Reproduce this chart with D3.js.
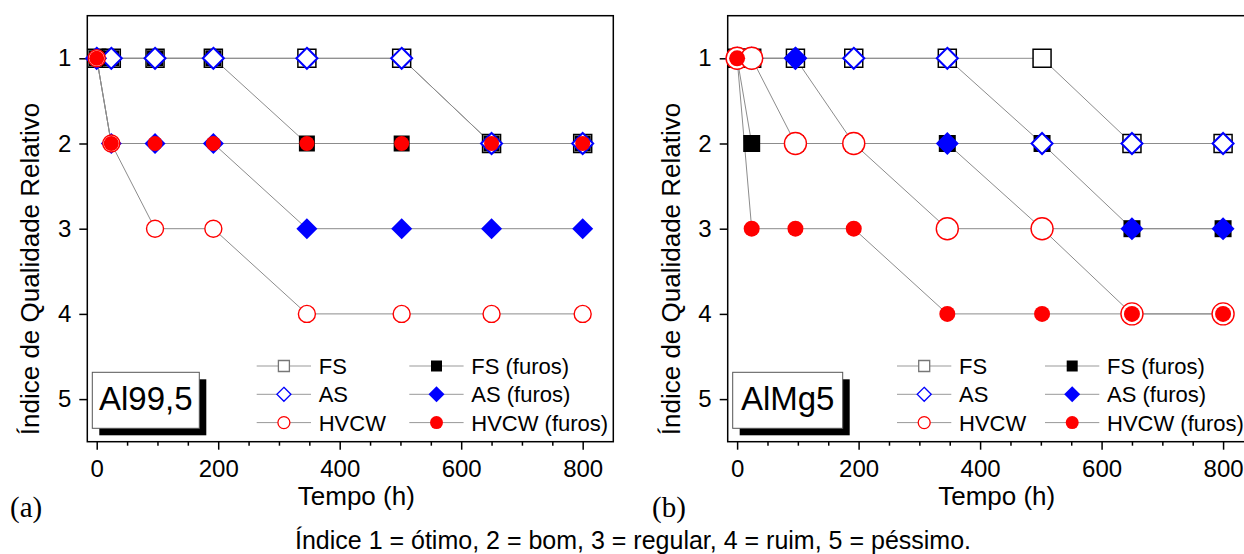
<!DOCTYPE html>
<html>
<head>
<meta charset="utf-8">
<title>Índice de Qualidade Relativo</title>
<style>
  body { margin: 0; background: #fff; }
  svg text { font-family: "Liberation Sans", Arial, sans-serif; fill: #000; }
  .tick text { font-size: 24px; }
  .axis-title { font-size: 26px; }
  .legend text { font-size: 22px; }
  .box-label { font-size: 33px; }
  .caption { font-size: 25px; }
</style>
</head>
<body>
<svg id="chart"></svg>
<script src="https://d3js.org/d3.v7.min.js"></script>
<script>
  // time (h) of each reading
  const times = [0, 24, 96, 192, 346, 502, 650, 800];
  const xTicks = [0, 200, 400, 600, 800];
  const xMinorTicks = [50, 100, 150, 250, 300, 350, 450, 500, 550, 650, 700, 750];
  const yTicks = [1, 2, 3, 4, 5];
  const seriesNames = ["FS", "FS (furos)", "AS", "AS (furos)", "HVCW", "HVCW (furos)"];

  // (a) Al99,5
  const alFS = [1, 1, 1, 1, 1, 1, 2, 2];
  const alFSFuros = [1, 1, 1, 1, 2, 2, 2, 2];
  const alAS = [1, 1, 1, 1, 1, 1, 2, 2];
  const alASFuros = [1, 2, 2, 2, 3, 3, 3, 3];
  const alHVCW = [1, 2, 3, 3, 4, 4, 4, 4];
  const alHVCWFuros = [1, 2, 2, 2, 2, 2, 2, 2];

  // (b) AlMg5
  const mgFS = [1, 1, 1, 1, 1, 1, 2, 2];
  const mgFSFuros = [1, 2, 2, 2, 2, 2, 3, 3];
  const mgAS = [1, 1, 1, 1, 1, 2, 2, 2];
  const mgASFuros = [1, 1, 1, 2, 2, 3, 3, 3];
  const mgHVCW = [1, 1, 2, 2, 3, 3, 4, 4];
  const mgHVCWFuros = [1, 3, 3, 3, 4, 4, 4, 4];

  const width = 1244, height = 554;
  const plotTop = 15.7, plotBottom = 441.7, frameW = 526;

  // marker look per series (same order as seriesNames)
  const styles = [
    { shape: "square", fill: "#fff", stroke: "#000", sw: 1.5, legStroke: "#777" },
    { shape: "square", fill: "#000", stroke: "none", sw: 0 },
    { shape: "diamond", fill: "#fff", stroke: "#0000ff", sw: 2 },
    { shape: "diamond", fill: "#0000ff", stroke: "none", sw: 0 },
    { shape: "circle", fill: "#fff", stroke: "#ff0000", sw: 1.4 },
    { shape: "circle", fill: "#ff0000", stroke: "none", sw: 0 }
  ];

  const panels = [
    {
      x0: 87.3, label: "Al99,5", letter: "(a)", letterX: 10,
      values: [alFS, alFSFuros, alAS, alASFuros, alHVCW, alHVCWFuros],
      sizes: [18, 16, 10.5, 10.5, 8.5, 7.5],
      boxW: 107, leg1: 169.4, leg2: 322
    },
    {
      x0: 727.7, label: "AlMg5", letter: "(b)", letterX: 652,
      values: [mgFS, mgFSFuros, mgAS, mgASFuros, mgHVCW, mgHVCWFuros],
      sizes: [18, 17, 10.5, 11.5, 11, 8],
      boxW: 110, leg1: 169.3, leg2: 317.3
    }
  ];

  const svg = d3.select("#chart")
    .attr("width", width)
    .attr("height", height)
    .style("display", "block");

  svg.append("rect").attr("width", width).attr("height", height).attr("fill", "#fff");

  // shape / size -> path
  function markerPath(shape, s) {
    if (shape === "square") return d3.symbol().type(d3.symbolSquare).size(s * s)();
    if (shape === "diamond") {
      return `M0,${-s}L${s},0L0,${s}L${-s},0Z`;
    }
    return d3.symbol().type(d3.symbolCircle).size(Math.PI * s * s)();
  }

  const y = d3.scaleLinear().domain([0.5, 5.5]).range([plotTop, plotBottom]);

  panels.forEach(p => {
    const x = d3.scaleLinear().domain([-15.5, 850.4]).range([p.x0, p.x0 + frameW]);
    const g = svg.append("g");

    // frame
    g.append("rect")
      .attr("x", p.x0).attr("y", plotTop)
      .attr("width", frameW).attr("height", plotBottom - plotTop)
      .attr("fill", "none").attr("stroke", "#000").attr("stroke-width", 1.5);

    // axes
    const xAxis = g.append("g").attr("transform", `translate(0,${plotBottom})`)
      .call(d3.axisBottom(x).tickValues(xTicks).tickSize(8).tickPadding(10).tickSizeOuter(0));
    const xMinor = g.append("g").attr("transform", `translate(0,${plotBottom})`)
      .call(d3.axisBottom(x).tickValues(xMinorTicks).tickSize(4).tickFormat("").tickSizeOuter(0));
    const yAxis = g.append("g").attr("transform", `translate(${p.x0},0)`)
      .call(d3.axisLeft(y).tickValues(yTicks).tickFormat(d3.format("d"))
        .tickSize(8).tickPadding(8).tickSizeOuter(0));
    [xAxis, xMinor, yAxis].forEach(a => {
      a.attr("font-size", null).attr("font-family", null);
      a.select(".domain").remove();
      a.selectAll(".tick line").attr("stroke", "#000").attr("stroke-width", 1.5);
    });

    // axis titles
    g.append("text").attr("class", "axis-title")
      .attr("x", p.x0 + frameW / 2 + 6).attr("y", 505)
      .attr("text-anchor", "middle").text("Tempo (h)");
    g.append("text").attr("class", "axis-title")
      .attr("transform", `translate(${p.x0 - 48},269) rotate(-90)`)
      .attr("text-anchor", "middle").text("Índice de Qualidade Relativo");

    // series lines
    const line = d3.line().x((d, i) => x(times[i])).y(d => y(d));
    p.values.forEach(vals => {
      g.append("path").datum(vals)
        .attr("d", line)
        .attr("fill", "none")
        .attr("stroke", "#8c8c8c")
        .attr("stroke-width", 1);
    });

    // markers, in series order so later ones sit on top
    p.values.forEach((vals, si) => {
      const st = styles[si];
      g.append("g").selectAll("path")
        .data(vals)
        .join("path")
        .attr("transform", (d, i) => `translate(${x(times[i])},${y(d)})`)
        .attr("d", markerPath(st.shape, p.sizes[si]))
        .attr("fill", st.fill)
        .attr("stroke", st.stroke)
        .attr("stroke-width", st.sw);
    });

    // legend
    const leg = g.append("g").attr("class", "legend");
    const legRows = [366, 394.3, 422.6];
    const legSizes = [11, 11, 7, 8, 6, 6.5];
    seriesNames.forEach((name, si) => {
      const col = si % 2 === 0 ? p.leg1 : p.leg2;
      const lx = p.x0 + col;
      const ly = legRows[Math.floor(si / 2)];
      const st = styles[si];
      leg.append("line")
        .attr("x1", lx).attr("x2", lx + 54.3)
        .attr("y1", ly).attr("y2", ly)
        .attr("stroke", "#999").attr("stroke-width", 1);
      leg.append("path")
        .attr("transform", `translate(${lx + 27.2},${ly})`)
        .attr("d", markerPath(st.shape, legSizes[si]))
        .attr("fill", st.fill)
        .attr("stroke", st.legStroke || st.stroke)
        .attr("stroke-width", st.sw ? 1.3 : 0);
      leg.append("text")
        .attr("x", lx + 62).attr("y", ly + 8)
        .text(name);
    });

    // material label box with shadow
    const bx = p.x0 + 5, by = 372.3, bh = 56;
    g.append("rect").attr("x", bx + 7).attr("y", by + 7)
      .attr("width", p.boxW).attr("height", bh).attr("fill", "#000");
    g.append("rect").attr("x", bx).attr("y", by)
      .attr("width", p.boxW).attr("height", bh)
      .attr("fill", "#fff").attr("stroke", "#555").attr("stroke-width", 1);
    g.append("text").attr("class", "box-label")
      .attr("x", bx + p.boxW / 2).attr("y", 410)
      .attr("text-anchor", "middle").text(p.label);

    // panel letter
    svg.append("text")
      .attr("x", p.letterX).attr("y", 517)
      .style("font-family", "'Liberation Serif', 'Times New Roman', serif")
      .style("font-size", "29px")
      .text(p.letter);
  });

  svg.append("text").attr("class", "caption")
    .attr("x", 633).attr("y", 548.5)
    .attr("text-anchor", "middle")
    .text("Índice 1 = ótimo, 2 = bom, 3 = regular, 4 = ruim, 5 = péssimo.");
</script>
</body>
</html>
